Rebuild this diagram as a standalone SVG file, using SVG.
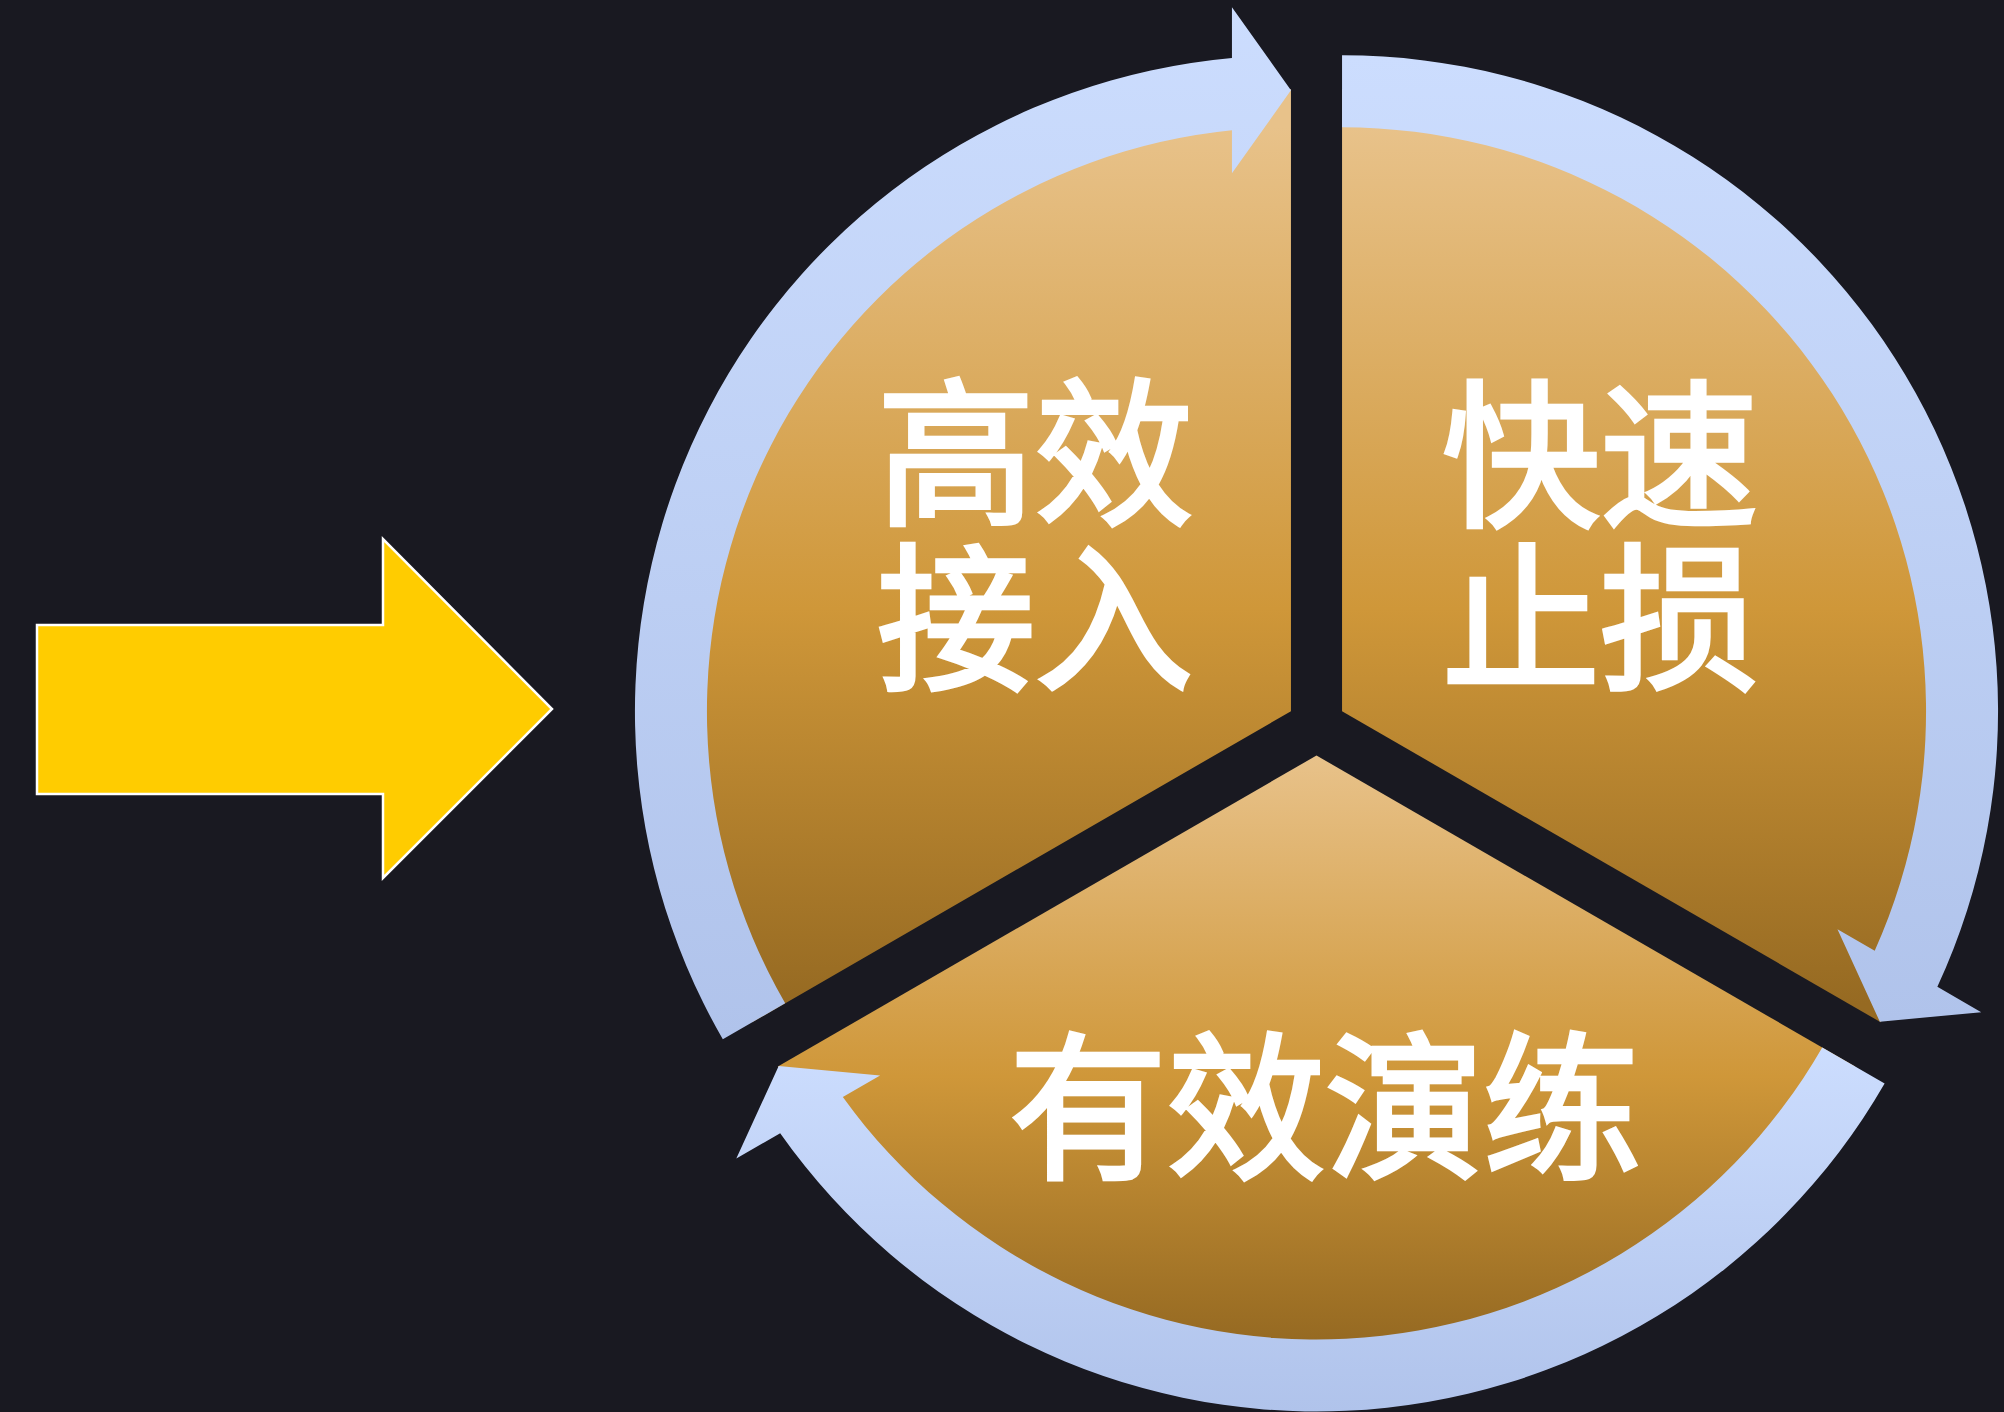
<svg xmlns="http://www.w3.org/2000/svg" width="2004" height="1412" viewBox="0 0 2004 1412">
  <defs>
    <linearGradient id="tanTop" gradientUnits="userSpaceOnUse" x1="0" y1="127" x2="0" y2="1003">
      <stop offset="0" stop-color="#E8C28A"/>
      <stop offset="0.55" stop-color="#CF9739"/>
      <stop offset="1" stop-color="#966A22"/>
    </linearGradient>
    <linearGradient id="tanBot" gradientUnits="userSpaceOnUse" x1="0" y1="756" x2="0" y2="1339">
      <stop offset="0" stop-color="#E8C28A"/>
      <stop offset="0.55" stop-color="#CF9739"/>
      <stop offset="1" stop-color="#966A22"/>
    </linearGradient>
    <linearGradient id="blue" x1="0" y1="0" x2="0" y2="1">
      <stop offset="0" stop-color="#CCDDFE"/>
      <stop offset="1" stop-color="#B0C3EB"/>
    </linearGradient>
  </defs>
  <style>
    .lbl { font-family: "Noto Sans CJK SC", "Noto Sans", sans-serif; font-size: 158px; font-weight: 400; fill: #FFFFFF; stroke: #FFFFFF; stroke-width: 4.5px; text-anchor: middle; }
    .ring { fill: url(#blue); }
  </style>
  <rect x="0" y="0" width="2004" height="1412" fill="#191921"/>

  <g id="input-arrow">
    <path d="M37,625 H383 V539 L552,709 L383,878 V794 H37 Z" fill="#FFCC00" stroke="#FFFFFF" stroke-width="2.5"/>
  </g>

  <g id="node-efficient-access">
    <path d="M1290.95,711.25 L752.28,1022.25 A622,622 0 0,1 1290.95,89.25 Z" fill="url(#tanTop)"/>
    <text class="lbl" x="1035" y="512">高效</text>
    <text class="lbl" x="1035" y="677">接入</text>
  </g>

  <g id="node-fast-stoploss">
    <path d="M1342.05,711.25 L1342.05,89.25 A622,622 0 0,1 1880.72,1022.25 Z" fill="url(#tanTop)"/>
    <text class="lbl" x="1600" y="514">快速</text>
    <text class="lbl" x="1600" y="677">止损</text>
  </g>

  <g id="node-effective-drill">
    <path d="M1316.5,755.5 L1855.17,1066.5 A622,622 0 0,1 777.83,1066.5 Z" fill="url(#tanBot)"/>
    <text class="lbl" x="1325" y="1166">有效演练</text>
  </g>

  <g id="connectors">
    <path class="ring" d="M722.83,1039.25 A656,656 0 0,1 1231.95,57.91 L1231.95,7.25 L1290.95,90.25 L1231.95,173.25 L1231.95,130.24 A584,584 0 0,0 785.18,1003.25 Z"/>
    <path class="ring" d="M1342.05,55.25 A656,656 0 0,1 1937.36,986.82 L1981.23,1012.15 L1879.85,1021.75 L1837.47,929.15 L1874.72,950.66 A584,584 0 0,0 1342.05,127.25 Z"/>
    <path class="ring" d="M1884.62,1083.5 A656,656 0 0,1 780.19,1133.27 L736.32,1158.6 L778.7,1066 L880.08,1075.6 L842.83,1097.11 A584,584 0 0,0 1822.26,1047.5 Z"/>
  </g>
</svg>
